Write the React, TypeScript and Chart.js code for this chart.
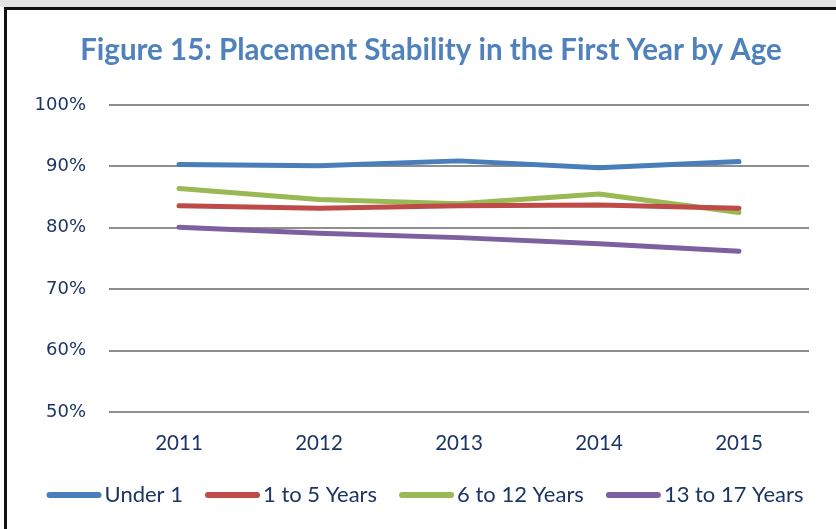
import React, { useEffect, useRef } from "react";
import { Chart, registerables } from "chart.js";

Chart.register(...registerables);

const categories = ["2011", "2012", "2013", "2014", "2015"];
const seriesNames = ["Under 1", "1 to 5 Years", "6 to 12 Years", "13 to 17 Years"];
const under1 = [90.3, 90.1, 90.9, 89.8, 90.8];
const age1to5 = [83.6, 83.2, 83.6, 83.7, 83.2];
const age6to12 = [86.4, 84.6, 83.9, 85.5, 82.5];
const age13to17 = [80.1, 79.1, 78.4, 77.4, 76.2];
const seriesColors = ["#4A7EBB", "#BE4B48", "#98B954", "#7D60A0"];
const titleText = "Figure 15: Placement Stability in the First Year by Age";
const yMin = 50;
const yMax = 100;
const yStep = 10;

const NAVY = "#1B3566";

const customText = {
  id: "customText",
  afterDraw(chart: any) {
    const ctx = chart.ctx;
    ctx.save();
    // title
    ctx.fillStyle = "#4F81BD";
    ctx.font = "bold 29.5px Lato";
    ctx.textAlign = "center";
    ctx.textBaseline = "alphabetic";
    ctx.fillText(titleText, 431, 60);
    // legend
    ctx.font = "22px Lato";
    const sw = 55;
    const gapText = 3;
    const gapItem = 22;
    const widths = chart.data.datasets.map((d: any) => ctx.measureText(d.label).width);
    let total = 0;
    widths.forEach((w: number, i: number) => {
      total += sw + gapText + w + (i < widths.length - 1 ? gapItem : 0);
    });
    let x = 425 - total / 2;
    const y = 495;
    chart.data.datasets.forEach((d: any, i: number) => {
      ctx.strokeStyle = d.borderColor;
      ctx.lineWidth = 6;
      ctx.lineCap = "round";
      ctx.beginPath();
      ctx.moveTo(x + 3, y);
      ctx.lineTo(x + sw - 3, y);
      ctx.stroke();
      ctx.fillStyle = NAVY;
      ctx.textAlign = "left";
      ctx.textBaseline = "middle";
      ctx.fillText(d.label, x + sw + gapText, y);
      x += sw + gapText + widths[i] + gapItem;
    });
    ctx.restore();
  },
};

export default function App() {
  const ref = useRef<HTMLCanvasElement | null>(null);
  useEffect(() => {
    if (!ref.current) return;
    const values = [under1, age1to5, age6to12, age13to17];
    const chart = new Chart(ref.current, {
      type: "line",
      data: {
        labels: categories,
        datasets: values.map((v, i) => ({
          label: seriesNames[i],
          data: v,
          borderColor: seriesColors[i],
          backgroundColor: seriesColors[i],
          borderWidth: 5,
          borderCapStyle: "round",
          borderJoinStyle: "round",
          pointRadius: 0,
          pointHoverRadius: 0,
          tension: 0,
          fill: false,
        })),
      },
      options: {
        responsive: false,
        animation: false,
        events: [],
        layout: { padding: { top: 105, right: 27, left: 0, bottom: 0 } },
        plugins: {
          legend: { display: false },
          title: { display: false },
          tooltip: { enabled: false },
        },
        scales: {
          x: {
            offset: true,
            grid: { display: false, drawTicks: false },
            border: { display: false },
            ticks: {
              color: NAVY,
              font: { family: "Lato", size: 20.5 },
              padding: 19,
              maxRotation: 0,
            },
            afterFit: (s: any) => {
              s.height = 117;
            },
          },
          y: {
            min: yMin,
            max: yMax,
            grid: { color: "#8E8E8E", lineWidth: 2, drawTicks: false },
            border: { display: false },
            ticks: {
              stepSize: yStep,
              color: NAVY,
              font: { family: "DejaVu Sans", size: 18 },
              padding: 23,
              callback: (v: any) => v + "%",
            },
            afterFit: (s: any) => {
              s.width = 109;
            },
          },
        },
      },
      plugins: [customText],
    });
    return () => chart.destroy();
  }, []);

  return (
    <div style={{ position: "fixed", left: 0, top: 0, width: 836, height: 529, overflow: "hidden", background: "#fff" }}>
      <div style={{ position: "absolute", left: 0, top: 0, width: 836, height: 7, background: "#e4e4e4" }} />
      <div style={{ position: "absolute", left: 4, top: 7, width: 900, height: 600, border: "3px solid #111", boxSizing: "border-box", background: "#fff" }} />
      <canvas ref={ref} width={836} height={529} style={{ position: "absolute", left: 0, top: 0, width: 836, height: 529 }} />
    </div>
  );
}
